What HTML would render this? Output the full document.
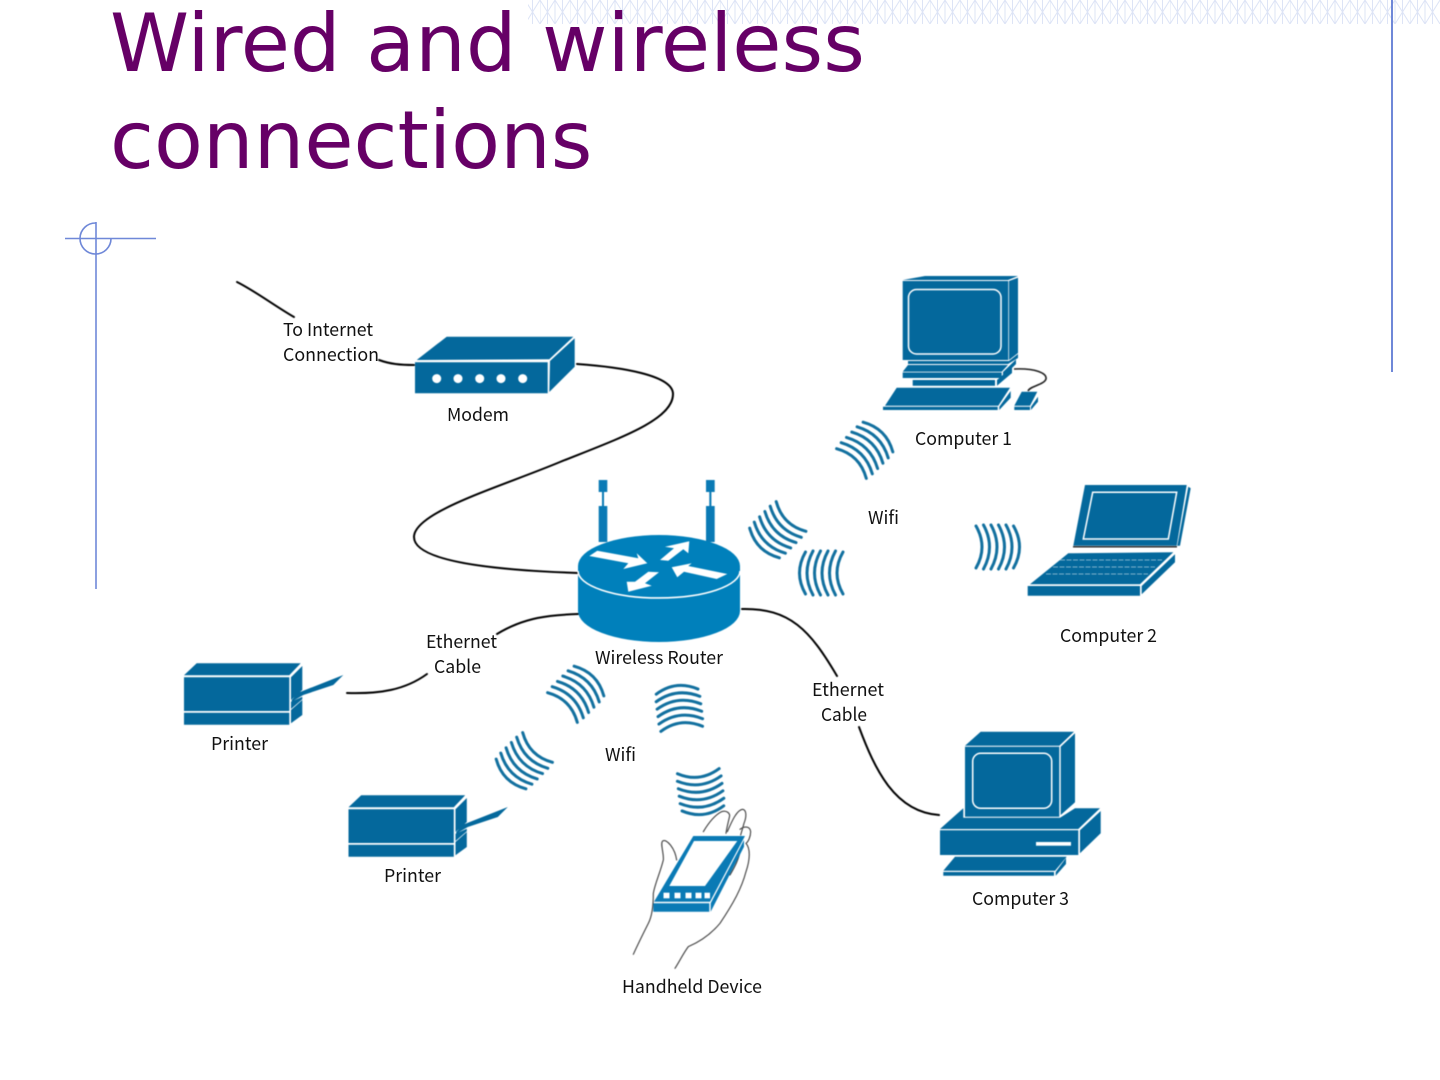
<!DOCTYPE html>
<html><head><meta charset="utf-8"><title>Wired and wireless connections</title>
<style>
html,body{margin:0;padding:0;background:#fff;width:1440px;height:1080px;overflow:hidden}
svg{display:block}
.t{font-family:"DejaVu Sans",sans-serif;font-size:80px;fill:#660066}
.l{font-family:"Noto Sans CJK JP","Liberation Sans",sans-serif;font-size:18px;fill:#111}
.c{fill:none;stroke:#000;stroke-width:2;stroke-linecap:round}
.w{stroke:#fff;stroke-width:1.5;fill:none}
.d{filter:blur(.4px)}
</style></head><body>
<svg width="1440" height="1080" viewBox="0 0 1440 1080" xmlns="http://www.w3.org/2000/svg">
<defs>
<pattern id="hatch" width="30" height="24" patternUnits="userSpaceOnUse">
<path d="M0 0V24M7.5 0V24M15 0V24M22.5 0V24M0 0L15 24M15 0L0 24M15 0L30 24M30 0L15 24" stroke="#dde4f6" stroke-width="1" fill="none"/>
</pattern>
<g id="wave" fill="none" stroke="#12709f" stroke-width="3" stroke-linecap="round">
<path d="M-22 -21Q-10 0 -22 21"/><path d="M-14.5 -22Q-2.5 0 -14.5 22"/><path d="M-7 -22Q5 0 -7 22"/><path d="M.5 -22Q12.5 0 .5 22"/><path d="M8 -22Q20 0 8 22"/><path d="M15.5 -21Q27.5 0 15.5 21"/>
</g>
<g id="printer">
<path fill="#04689c" d="M184 677.3H289.3V711H184ZM184 712.7H289.3V724.7H184ZM184 675.3L196.7 663.3H300.7L289.3 675.3ZM291 677.3L302.3 666V690L291 700ZM291 710L302.3 700V715L291 723.3ZM291 701.7L302.3 696.7V699.3L291 709ZM291.7 700L298.3 692.7L343.3 675L333.3 685L303.3 695L291.7 701.7Z"/>
</g>
</defs>

<rect x="528" y="0" width="912" height="24" fill="url(#hatch)"/>
<path d="M1392 0V372" stroke="#6f88d8" stroke-width="2"/>
<path d="M96 222V589M65 238.5H156" stroke="#6f88d8" stroke-width="1.6" fill="none"/>
<path d="M96 223A15.5 15.5 0 1 0 111 238.5" stroke="#6f88d8" stroke-width="1.6" fill="none"/>

<text class="t" x="110" y="71">Wired and wireless</text>
<text class="t" x="110" y="168">connections</text>

<g class="d">
<!-- connectors -->
<path class="c" d="M237 282C255 291 275 306 294 317"/>
<path class="c" d="M379 360C390 364 400 365 414 365"/>
<path class="c" d="M577 364C620 367 673 375 673 394C673 420 620 438 560 462C500 487 414 512 414 537C414 565 520 571 578 573"/>
<path class="c" d="M578 614C550 615 525 617 497 634"/>
<path class="c" d="M427 674C405 690 380 694 347 693"/>
<path class="c" d="M742 609C790 608 810 630 837 676"/>
<path class="c" d="M859 727C875 770 895 812 939 815"/>

<!-- modem -->
<path fill="#04689c" d="M415 362.3H547.7V393.3H415ZM416.7 360L446.7 336.7H573.3L549.3 359.3ZM550 361L574.7 338.3V366.7L549.3 392Z"/>
<g fill="#fff"><circle cx="436.7" cy="378.6" r="4.5"/><circle cx="458" cy="378.6" r="4.5"/><circle cx="479.7" cy="378.6" r="4.5"/><circle cx="501" cy="378.6" r="4.5"/><circle cx="522.7" cy="378.6" r="4.5"/></g>

<!-- router -->
<g fill="#0a7ab5">
<path d="M598.7 480H607.3V492H604V506H607.3V542H598.7V506H602V492H598.7Z"/>
<path d="M706 480H714.7V492H711.4V506H714.7V542H706V506H709.3V492H706Z"/>
</g>
<path fill="#0080bb" d="M578 566A81 31 0 0 1 740 566V611A81 31 0 0 1 578 611Z"/>
<path d="M578 571A81 27 0 0 0 740 571" fill="none" stroke="#fff" stroke-width="1.6"/>
<g fill="#fff">
<path d="M589.3 556L597.3 550.7L638.3 558.3L636.7 553.3L647.3 563.3L623.3 569L628.3 563.3Z"/>
<path d="M660 560L674 548.3L665 546.7L689.3 541.3L688.3 553.3L683.3 549.3L668.3 560.7Z"/>
<path d="M671.7 567.3L691.7 563.3L688.3 566L727.3 574L716.7 579L684 571.7L677.3 577.3Z"/>
<path d="M659 572.3L648.3 571.7L635 581.7L626.7 581.7L628.3 591.7L651.7 585.7L645 583.3Z"/>
</g>

<!-- computer 1 -->
<g fill="#04689c">
<path d="M902.7 281H1008.3V360H902.7ZM902.7 280L925 276H1018L1008 280ZM1009 281L1018 277.7V353L1009 360Z"/>
<path d="M902.7 371.7L908 365H1008L1001.7 371.7ZM902.7 372.5H1001.7V378H902.7ZM1003 372L1016 359.5V364L1003 377ZM912.7 380H995V385.7H912.7ZM997 380L1012 367V373L997 385.7ZM908 361H1009L1018 354V358L1008 364H908Z"/>
<path d="M885 405.7L896.7 387.7H1010L998.3 405.7ZM883 406.7H997.7V410H883ZM999.3 406.7L1010.7 391V397.7L999.3 410Z"/>
<path d="M1014.3 405.7L1021.7 391.7H1037.3L1030 405.7ZM1014.3 406.7H1030V410H1014.3ZM1031 406.7L1038 396.7V401.7L1031 410Z"/>
</g>
<rect x="908.5" y="289.5" width="92.5" height="64.5" rx="8" class="w"/>
<path d="M1014 369C1035 368 1047 373 1046 379C1044 385 1030 386 1028 391" fill="none" stroke="#222" stroke-width="1.6"/>

<!-- laptop -->
<g fill="#04689c">
<path d="M1085 485H1186.7L1176.7 545.7H1073.3ZM1188.3 486.7L1190.7 488.3L1180 545.7H1177.3Z"/>
<path d="M1068.3 553.3L1173.3 552.3L1140 584.3H1030ZM1027.7 586H1140V595.7H1027.7ZM1141.7 586L1175 554.3V562.3L1141.7 594.3Z"/>
</g>
<path d="M1092.7 492.3H1176.7L1168.3 539H1083.3Z" class="w"/>
<path d="M1073 546.8H1177" stroke="#222" stroke-width="1.3"/>
<path d="M1060 560H1162M1053 567H1155M1046 574H1148" stroke="#7fb3cc" stroke-width="1" stroke-dasharray="5 1.5" fill="none"/>

<!-- computer 3 -->
<g fill="#04689c">
<path d="M965 746.7H1059.3V816.7H965ZM965 745.7L980.7 731.7H1074L1059.3 745.7ZM1060.7 746.7L1075 733.3V802.3L1060.7 815Z"/>
<path d="M940 829L963.3 808.3V817.7H1060L1075 808.3H1100L1078.3 829ZM940 830.3H1078.3V855H940ZM1080 830.3L1100.7 811V833.3L1080 853.3Z"/>
<path d="M943.3 870.7L955 856.7H1066.7L1055 870.7ZM943.3 872H1054V875.7H943.3ZM1055.7 872L1066 858V864L1055.7 875.7Z"/>
</g>
<rect x="972.7" y="753.3" width="79" height="55" rx="8" class="w"/>
<rect x="1036" y="842" width="35" height="3.7" fill="#fff"/>

<!-- printers -->
<use href="#printer"/>
<use href="#printer" transform="translate(164.5 132)"/>

<!-- handheld -->
<g transform="translate(620 760) scale(.3333)" fill="none" stroke="#444" stroke-width="3.4" stroke-linecap="round" stroke-linejoin="round">
<path d="M40 583C55 550 70 520 85 490C98 465 100 430 100 400C105 370 120 340 130 300C132 280 120 250 128 243C140 235 165 265 170 300"/>
<path d="M250 215C265 190 285 165 305 155C320 150 332 160 328 172C324 190 320 205 318 220"/>
<path d="M322 215C335 185 350 150 368 148C380 150 380 170 372 190C368 205 365 215 362 225"/>
<path d="M360 208C372 198 390 198 392 215C392 230 385 245 378 250C392 265 390 300 378 335C365 385 340 430 300 490C275 520 240 545 205 560C190 580 178 605 165 625"/>
<path d="M330 345C345 320 358 295 362 265"/>
</g>
<g fill="#0a7ab5">
<path fill-rule="evenodd" d="M693.3 836H745L710 901.7H654ZM694 841L669.3 886H705L737.3 841Z"/>
<path d="M653.3 903.3H709.3V911.7H653.3ZM710.7 903.3L744 840V846.7L710.7 911.7Z"/>
</g>
<g fill="#fff"><rect x="663.5" y="892.7" width="6" height="5.6"/><rect x="674.5" y="892.7" width="6" height="5.6"/><rect x="685.5" y="892.7" width="6" height="5.6"/><rect x="695.5" y="892.7" width="6" height="5.6"/><rect x="704.5" y="892.7" width="5.5" height="5.6"/></g>

<!-- waves -->
<use href="#wave" transform="translate(998 547)"/>
<use href="#wave" transform="translate(821 573) rotate(180)"/>
<use href="#wave" transform="translate(775.5 532) rotate(135)"/>
<use href="#wave" transform="translate(867 448) rotate(-45)"/>
<use href="#wave" transform="translate(578 692) rotate(-45)"/>
<use href="#wave" transform="translate(679 707) rotate(-97)"/>
<use href="#wave" transform="translate(522 763) rotate(135)"/>
<use href="#wave" transform="translate(701 793) rotate(83)"/>
</g>

<!-- labels -->
<g class="l">
<text x="283" y="336" textLength="90" lengthAdjust="spacingAndGlyphs">To Internet</text>
<text x="283" y="361" textLength="96" lengthAdjust="spacingAndGlyphs">Connection</text>
<text x="447" y="421" textLength="62" lengthAdjust="spacingAndGlyphs">Modem</text>
<text x="915" y="445" textLength="97" lengthAdjust="spacingAndGlyphs">Computer 1</text>
<text x="868" y="524" textLength="31" lengthAdjust="spacingAndGlyphs">Wifi</text>
<text x="1060" y="642" textLength="97" lengthAdjust="spacingAndGlyphs">Computer 2</text>
<text x="595" y="664" textLength="128" lengthAdjust="spacingAndGlyphs">Wireless Router</text>
<text x="426" y="648" textLength="71" lengthAdjust="spacingAndGlyphs">Ethernet</text>
<text x="434" y="673" textLength="47" lengthAdjust="spacingAndGlyphs">Cable</text>
<text x="812" y="696" textLength="72" lengthAdjust="spacingAndGlyphs">Ethernet</text>
<text x="821" y="721" textLength="46" lengthAdjust="spacingAndGlyphs">Cable</text>
<text x="211" y="750" textLength="57" lengthAdjust="spacingAndGlyphs">Printer</text>
<text x="605" y="761" textLength="31" lengthAdjust="spacingAndGlyphs">Wifi</text>
<text x="384" y="882" textLength="57" lengthAdjust="spacingAndGlyphs">Printer</text>
<text x="972" y="905" textLength="97" lengthAdjust="spacingAndGlyphs">Computer 3</text>
<text x="622" y="993" textLength="140" lengthAdjust="spacingAndGlyphs">Handheld Device</text>
</g>
</svg>
</body></html>
